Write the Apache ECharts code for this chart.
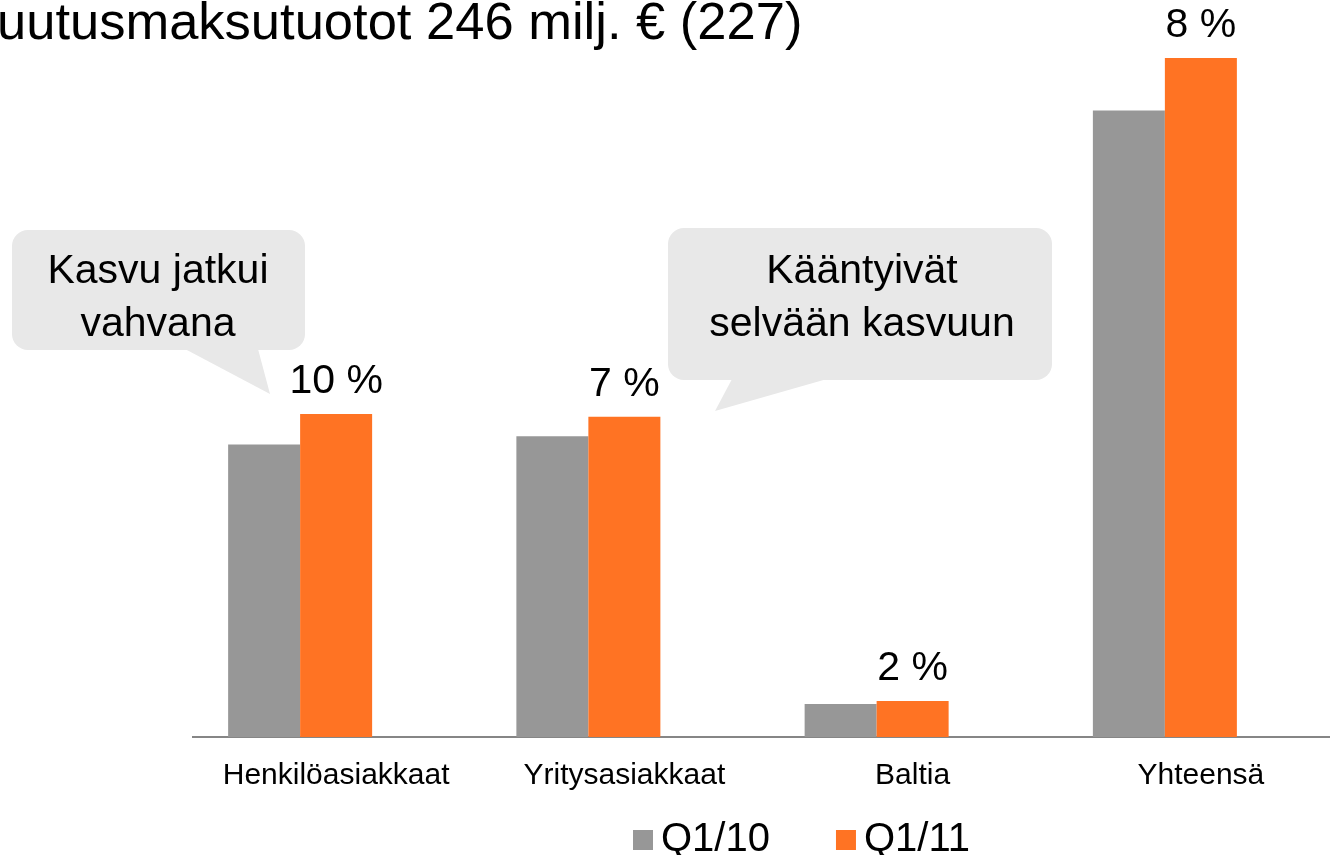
<!DOCTYPE html>
<html>
<head>
<meta charset="utf-8">
<script src="https://cdn.jsdelivr.net/npm/echarts@6/dist/echarts.min.js"></script>
<style>
  html, body { margin: 0; padding: 0; background: #fff; }
  #chart { width: 1330px; height: 855px; }
</style>
</head>
<body>
<div id="chart"></div>
<script>
  // data
  var categories = ['Henkilöasiakkaat', 'Yritysasiakkaat', 'Baltia', 'Yhteensä'];
  var seriesNames = ['Q1/10', 'Q1/11'];
  var q110 = [106, 109, 12, 227];
  var q111 = [117, 116, 13, 246];
  var growth = ['10 %', '7 %', '2 %', '8 %'];

  var FONT = "'Liberation Sans', Arial, sans-serif";
  var GRAY = '#979797', ORANGE = '#ff7323', BUBBLE = '#e8e8e8';

  var chart = echarts.init(document.getElementById('chart'));
  chart.setOption({
    animation: false,
    textStyle: { fontFamily: FONT },
    title: {
      text: 'uutusmaksutuotot 246 milj. € (227)',
      left: -8,
      top: -7,
      textStyle: { fontFamily: FONT, fontSize: 52.5, fontWeight: 'normal', color: '#000' }
    },
    legend: {
      data: seriesNames,
      left: 628,
      top: 815,
      icon: 'rect',
      itemWidth: 20,
      itemHeight: 20,
      itemGap: 66,
      textStyle: { fontFamily: FONT, fontSize: 40, color: '#000', padding: [0, 0, 0, 3] }
    },
    grid: { left: 156, right: 21, top: 47, bottom: 118 },
    xAxis: {
      type: 'category',
      data: categories,
      axisLine: { show: false },
      axisTick: { show: false },
      axisLabel: {
        interval: 0,
        hideOverlap: false,
        margin: 24,
        fontFamily: FONT,
        fontSize: 30,
        color: '#000',
        padding: [0, 0, 0, 72]
      }
    },
    yAxis: {
      type: 'value',
      min: 0,
      max: 250,
      show: false,
      splitLine: { show: false }
    },
    series: [
      {
        name: seriesNames[0],
        type: 'bar',
        data: q110,
        barWidth: 72,
        barGap: '0%',
        itemStyle: { color: GRAY }
      },
      {
        name: seriesNames[1],
        type: 'bar',
        data: q111,
        barWidth: 72,
        itemStyle: { color: ORANGE },
        label: {
          show: true,
          position: 'top',
          distance: 12,
          fontFamily: FONT,
          fontSize: 41,
          color: '#000',
          formatter: function (p) { return growth[p.dataIndex]; }
        }
      }
    ],
    graphic: [
      // axis baseline
      {
        type: 'line',
        shape: { x1: 192, y1: 737, x2: 1330, y2: 737 },
        style: { stroke: '#868686', lineWidth: 2 }
      },
      // callout 1
      {
        type: 'rect',
        shape: { x: 12, y: 230, width: 293, height: 120, r: 16 },
        style: { fill: BUBBLE }
      },
      {
        type: 'polygon',
        shape: { points: [[185, 349], [258, 349], [270, 394]] },
        style: { fill: BUBBLE }
      },
      {
        type: 'text',
        x: 158,
        y: 298,
        style: {
          text: 'Kasvu jatkui\nvahvana',
          font: '41px ' + FONT,
          fill: '#000',
          align: 'center',
          verticalAlign: 'middle',
          lineHeight: 53
        }
      },
      // callout 2
      {
        type: 'rect',
        shape: { x: 668, y: 228, width: 384, height: 152, r: 16 },
        style: { fill: BUBBLE }
      },
      {
        type: 'polygon',
        shape: { points: [[732, 379], [827, 379], [715, 411]] },
        style: { fill: BUBBLE }
      },
      {
        type: 'text',
        x: 862,
        y: 298,
        style: {
          text: 'Kääntyivät\nselvään kasvuun',
          font: '41px ' + FONT,
          fill: '#000',
          align: 'center',
          verticalAlign: 'middle',
          lineHeight: 53
        }
      }
    ]
  });
</script>
</body>
</html>
